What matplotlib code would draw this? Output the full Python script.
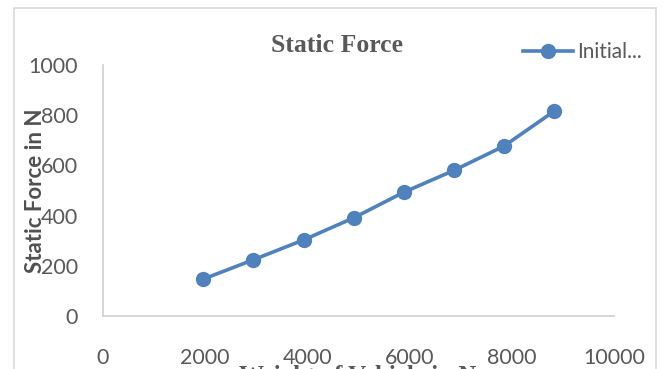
import matplotlib
matplotlib.use("Agg")
import matplotlib.pyplot as plt
from matplotlib.patches import Rectangle

weight = [1962, 2943, 3924, 4905, 5886, 6867, 7848, 8829]
force = [147, 224, 303, 391, 493, 580, 677, 816]
series_name = "Initial..."
xticks = [0, 2000, 4000, 6000, 8000, 10000]
yticks = [0, 200, 400, 600, 800, 1000]

W, H = 665, 369
fig = plt.figure(figsize=(W/100, H/100), dpi=100)
gray = "#595959"
blue = "#4F81BD"
tickfont = ["Lato", "DejaVu Sans"]

# outer chart frame
fig.patches.append(Rectangle((14/W, -0.1), (656-14)/W, 1.1 - 8/H, transform=fig.transFigure,
                             fill=False, edgecolor="#D9D9D9", lw=1.2))

ax = fig.add_axes([103/W, 1-316/H, (614-103)/W, (316-65)/H])
ax.plot(weight, force, color=blue, lw=2.6, marker="o", markersize=10, label=series_name)
ax.set_xlim(0, 10000)
ax.set_ylim(0, 1000)
ax.set_xticks(xticks)
ax.set_yticks(yticks)
for s in ["top", "right"]:
    ax.spines[s].set_visible(False)
for s in ["left", "bottom"]:
    ax.spines[s].set_color("#D0D0D0")
    ax.spines[s].set_linewidth(1.2)
ax.tick_params(length=0, colors=gray, labelsize=15.5)
ax.tick_params(axis="x", pad=23)
ax.tick_params(axis="y", pad=18)
for lab in ax.get_xticklabels() + ax.get_yticklabels():
    lab.set_family(tickfont)

fig.text(36/W, 1-191/H, "Static Force in N", rotation=90, ha="center", va="center",
         fontsize=16, fontweight="bold", color="#505050", family=["Lato", "DejaVu Sans"])

fig.text(337/W, 1-45/H, "Static Force", ha="center", va="center", fontsize=18.5,
         fontweight="bold", color=gray, family=["Liberation Serif", "DejaVu Serif"])
fig.text(358/W, 1-365/H, "Weight of Vehicle in N", ha="center", va="top", fontsize=18,
         fontweight="bold", color=gray, family=["Liberation Serif", "DejaVu Serif"])

leg = ax.legend(loc="center left", bbox_to_anchor=(523/W, 1-52/H), bbox_transform=fig.transFigure,
                frameon=False, fontsize=15, handlelength=2.4, handletextpad=0.2,
                borderpad=0, borderaxespad=0)
for t in leg.get_texts():
    t.set_color(gray)
    t.set_family(tickfont)

fig.savefig("out.png", dpi=100)
